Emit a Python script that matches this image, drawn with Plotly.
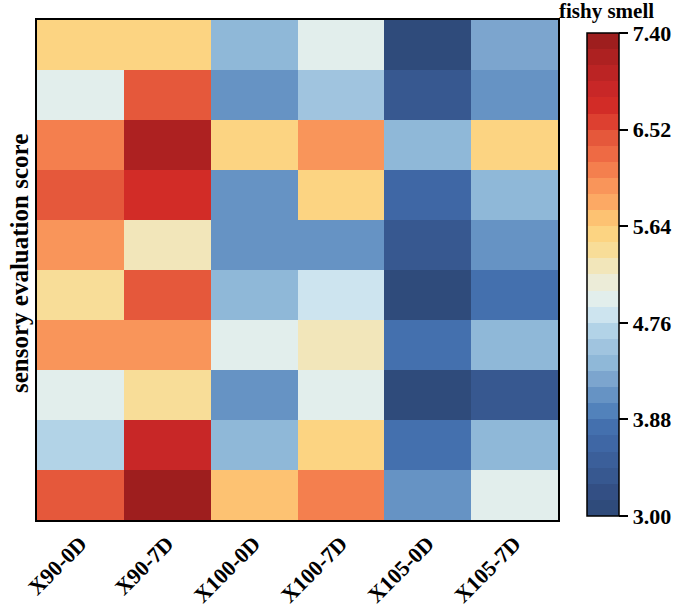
import plotly.graph_objects as go

samples = ["X90-0D", "X90-7D", "X100-0D", "X100-7D", "X105-0D", "X105-7D"]
rows = ["R1", "R2", "R3", "R4", "R5", "R6", "R7", "R8", "R9", "R10"]  # top to bottom

row1 = [5.57, 5.57, 4.39, 4.98, 3.07, 4.25]
row2 = [4.98, 6.45, 4.10, 4.54, 3.30, 4.10]
row3 = [6.15, 7.20, 5.57, 6.01, 4.39, 5.57]
row4 = [6.45, 6.74, 4.10, 5.57, 3.66, 4.39]
row5 = [6.01, 5.27, 4.10, 4.10, 3.37, 4.10]
row6 = [5.42, 6.45, 4.39, 4.83, 3.07, 3.81]
row7 = [6.01, 6.01, 4.98, 5.27, 3.81, 4.39]
row8 = [4.98, 5.42, 4.10, 4.98, 3.07, 3.37]
row9 = [4.69, 6.89, 4.39, 5.57, 3.81, 4.39]
row10 = [6.45, 7.33, 5.71, 6.15, 4.10, 4.98]

z = [row1, row2, row3, row4, row5, row6, row7, row8, row9, row10]

tick_vals = [3.00, 3.88, 4.76, 5.64, 6.52, 7.40]
tick_text = ["3.00", "3.88", "4.76", "5.64", "6.52", "7.40"]

bin_colors = [
    "#2f4b7b", "#334f84", "#375890", "#3b5f9a", "#3f67a5", "#4470ae",
    "#5282bb", "#6693c4", "#7ca5ce", "#8fb8d8", "#a0c4df", "#b2d3e7",
    "#cde4ef", "#e2eeec", "#ececd8", "#f2e6ba", "#f8dd98", "#fcd482",
    "#fdc272", "#fca964", "#f9955a", "#f47f4e", "#ee6a44", "#e5583b",
    "#dd4030", "#d22c27", "#c82727", "#bb2424", "#ad2121", "#9e1e1e",
]
n = len(bin_colors)
colorscale = []
for i, c in enumerate(bin_colors):
    colorscale.append([i / n, c])
    colorscale.append([(i + 1) / n, c])

FONT = "Liberation Serif"
L, R, T, B = 37, 121, 20, 92
PW, PH = 679 - L - R, 612 - T - B

fig = go.Figure(go.Heatmap(
    z=z, x=samples, y=rows,
    zmin=3.0, zmax=7.4,
    colorscale=colorscale,
    xgap=0, ygap=0,
    colorbar=dict(
        thickness=32, thicknessmode="pixels",
        len=(516 - 33) / PH, lenmode="fraction",
        x=(587 - L) / PW, xanchor="left", xpad=0,
        y=(T + PH - (33 + 516) / 2) / PH, yanchor="middle", ypad=0,
        outlinecolor="black", outlinewidth=1.5,
        tickmode="array", tickvals=tick_vals, ticktext=tick_text,
        ticks="outside", ticklen=9, tickwidth=2, tickcolor="black",
        tickfont=dict(family=FONT, size=22, color="black", weight="bold"),
    ),
))

fig.update_layout(
    width=679, height=612,
    margin=dict(l=L, r=R, t=T, b=B, autoexpand=False),
    paper_bgcolor="white", plot_bgcolor="white",
    font=dict(family=FONT, color="black"),
    annotations=[
        dict(text="<b>fishy smell</b>", xref="paper", yref="paper",
             x=(606 - L) / PW, y=1 + (T - 11) / PH, xanchor="center", yanchor="middle",
             showarrow=False, font=dict(family=FONT, size=21, color="black")),
        dict(text="<b>sensory evaluation score</b>", xref="paper", yref="paper",
             x=(19 - L) / PW, y=(T + PH - 264) / PH, xanchor="center", yanchor="middle",
             textangle=-90, showarrow=False,
             font=dict(family=FONT, size=25, color="black")),
    ],
)
fig.update_xaxes(
    tickangle=-45, showline=True, mirror=True, linecolor="black", linewidth=2,
    ticks="", tickfont=dict(family=FONT, size=22, color="black", weight="bold"),
)
fig.update_yaxes(
    autorange="reversed", showticklabels=False, ticks="",
    showline=True, mirror=True, linecolor="black", linewidth=2,
)

fig.write_html("out.html", config={"displayModeBar": False},
               post_script="document.body.style.margin='0';")
